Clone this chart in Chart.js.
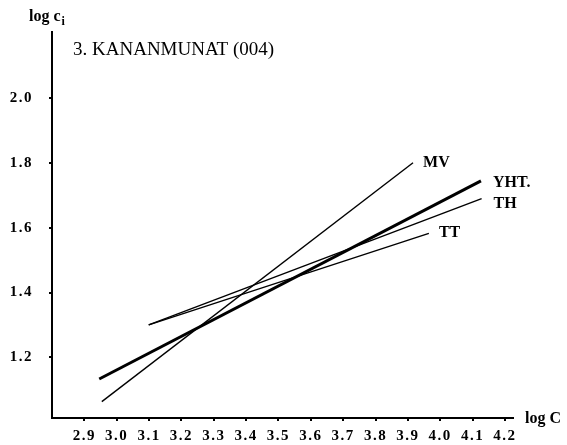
<!DOCTYPE html>
<html>
<head>
<meta charset="utf-8">
<script src="https://cdn.jsdelivr.net/npm/chart.js@4/dist/chart.umd.min.js"></script>
<style>
  html, body { margin: 0; padding: 0; background: #fff; }
  #wrap { width: 567px; height: 445px; }
</style>
</head>
<body>
<div id="wrap"><canvas id="chart" width="567" height="445"></canvas></div>
<script>
// lines: end points (log C, log ci)
const seriesNames = ['MV', 'YHT.', 'TH', 'TT'];
const mvX = [2.954, 3.916];
const mvY = [1.063, 1.801];
const yhtX = [2.946, 4.126];
const yhtY = [1.133, 1.745];
const thX = [3.099, 4.128];
const thY = [1.300, 1.690];
const ttX = [3.099, 3.965];
const ttY = [1.300, 1.583];

const xTicks = [2.9, 3.0, 3.1, 3.2, 3.3, 3.4, 3.5, 3.6, 3.7, 3.8, 3.9, 4.0, 4.1, 4.2];
const yTicks = [1.2, 1.4, 1.6, 1.8, 2.0];

const title = '3. KANANMUNAT (004)';

function pts(xs, ys) {
    return xs.map((x, i) => ({ x: x, y: ys[i] }));
}

const serif = '"Liberation Serif", "DejaVu Serif", serif';

// label offsets from the upper end of each line
const labelOffsets = [[10, 0], [12, 2], [12, 5], [10, 0]];

// wider spacing for the tick numbers, like the printed figure
const spacingPlugin = {
    id: 'spacing',
    beforeDraw(chart) { chart.ctx.letterSpacing = '1.5px'; },
    beforeDatasetsDraw(chart) { chart.ctx.letterSpacing = '0px'; }
};

const textPlugin = {
    id: 'texts',
    afterDraw(chart) {
        const ctx = chart.ctx;
        const xs = chart.scales.x, ys = chart.scales.y;
        ctx.save();
        ctx.letterSpacing = '0px';
        ctx.fillStyle = '#000';
        ctx.textBaseline = 'middle';

        // series labels at the line ends
        ctx.font = 'bold 16px ' + serif;
        ctx.textAlign = 'left';
        chart.data.datasets.forEach((ds, i) => {
            const end = ds.data[ds.data.length - 1];
            const px = xs.getPixelForValue(end.x) + labelOffsets[i][0];
            const py = ys.getPixelForValue(end.y) + labelOffsets[i][1];
            ctx.fillText(seriesNames[i], px, py);
        });

        // title inside the plot
        ctx.font = '19px ' + serif;
        ctx.fillText(title, 73, 50);

        // axis names
        ctx.font = 'bold 16px ' + serif;
        ctx.fillText('log C', xs.right + 12, xs.top + 1);

        ctx.textBaseline = 'alphabetic';
        ctx.font = 'bold 16px ' + serif;
        ctx.fillText('log c', 29, 21);
        const w = ctx.measureText('log c').width;
        ctx.font = 'bold 12px ' + serif;
        ctx.fillText('i', 29 + w + 1, 25);
        ctx.restore();
    }
};

const lineStyle = { borderColor: '#000', backgroundColor: '#000', pointRadius: 0, showLine: true, fill: false };

new Chart(document.getElementById('chart').getContext('2d'), {
    type: 'scatter',
    data: {
        datasets: [
            Object.assign({ label: seriesNames[0], data: pts(mvX, mvY), borderWidth: 1.4 }, lineStyle),
            Object.assign({ label: seriesNames[1], data: pts(yhtX, yhtY), borderWidth: 3 }, lineStyle),
            Object.assign({ label: seriesNames[2], data: pts(thX, thY), borderWidth: 1.4 }, lineStyle),
            Object.assign({ label: seriesNames[3], data: pts(ttX, ttY), borderWidth: 1.4 }, lineStyle)
        ]
    },
    options: {
        responsive: false,
        animation: false,
        layout: { padding: { top: 32, right: 54, left: 0, bottom: 0 } },
        plugins: {
            legend: { display: false },
            tooltip: { enabled: false }
        },
        scales: {
            x: {
                type: 'linear',
                min: 2.8,
                max: 4.225,
                afterBuildTicks: axis => { axis.ticks = xTicks.map(v => ({ value: v })); },
                afterFit: axis => { axis.height = 27; },
                border: { display: true, color: '#000', width: 2 },
                grid: { display: true, drawOnChartArea: false, drawTicks: true, tickLength: 3, color: '#000', lineWidth: 2 },
                ticks: {
                    color: '#000',
                    padding: 6,
                    maxRotation: 0,
                    autoSkip: false,
                    font: { family: serif, size: 15, weight: 'bold' },
                    callback: v => v.toFixed(1)
                }
            },
            y: {
                type: 'linear',
                min: 1.0125,
                max: 2.205,
                afterBuildTicks: axis => { axis.ticks = yTicks.map(v => ({ value: v })); },
                afterFit: axis => { axis.width = 52; },
                border: { display: true, color: '#000', width: 2 },
                grid: { display: true, drawOnChartArea: false, drawTicks: true, tickLength: 3, color: '#000', lineWidth: 2 },
                ticks: {
                    color: '#000',
                    padding: 16,
                    autoSkip: false,
                    font: { family: serif, size: 15, weight: 'bold' },
                    callback: v => v.toFixed(1)
                }
            }
        }
    },
    plugins: [spacingPlugin, textPlugin]
});
</script>
</body>
</html>
